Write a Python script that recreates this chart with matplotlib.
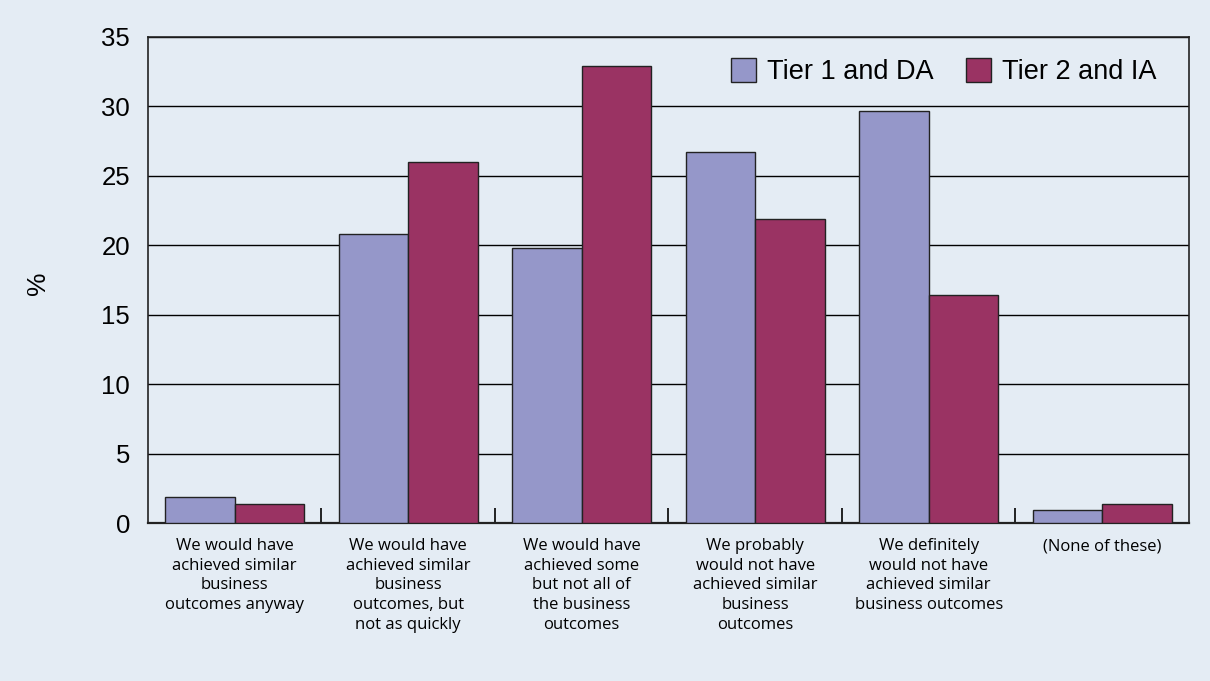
import numpy as np
import matplotlib.pyplot as plt

categories = [
    "We would have\nachieved similar\nbusiness\noutcomes anyway",
    "We would have\nachieved similar\nbusiness\noutcomes, but\nnot as quickly",
    "We would have\nachieved some\nbut not all of\nthe business\noutcomes",
    "We probably\nwould not have\nachieved similar\nbusiness\noutcomes",
    "We definitely\nwould not have\nachieved similar\nbusiness outcomes",
    "(None of these)",
]
tier1 = [1.9, 20.8, 19.8, 26.7, 29.7, 0.95]
tier2 = [1.35, 26.0, 32.9, 21.9, 16.4, 1.35]
series_names = ["Tier 1 and DA", "Tier 2 and IA"]

bg = "#E4ECF4"
fig = plt.figure(figsize=(12.1, 6.81), dpi=100, facecolor=bg)
ax = fig.add_axes([0.1223, 0.232, 0.8603, 0.7137], facecolor=bg)

x = np.arange(len(categories))
w = 0.4
ax.bar(x - w / 2, tier1, w, color="#9597C9", edgecolor="#222222", linewidth=1.0,
       label=series_names[0], zorder=3)
ax.bar(x + w / 2, tier2, w, color="#9A3363", edgecolor="#222222", linewidth=1.0,
       label=series_names[1], zorder=3)

ax.set_xlim(-0.5, len(categories) - 0.5)
ax.set_ylim(0, 35)
ax.set_yticks(range(0, 36, 5))
ax.tick_params(axis="y", length=0, pad=13, labelsize=18.5)
for t in ax.get_yticklabels():
    t.set_family("Liberation Sans")
ax.yaxis.grid(True, color="black", linewidth=1.0, zorder=1)

# category labels without ticks, separator ticks between categories
ax.set_xticks(x)
ax.set_xticklabels(categories, family="Open Sans", fontsize=12, linespacing=1.3)
ax.tick_params(axis="x", length=0, pad=11)
ax.set_xticks(np.arange(0.5, len(categories) - 0.5), minor=True)
ax.tick_params(axis="x", which="minor", direction="in", length=11, width=1.2, color="black")

for s in ax.spines.values():
    s.set_color("#222222")
    s.set_linewidth(1.2)
ax.spines["bottom"].set_linewidth(1.6)

fig.text(38 / 1210, 1 - 283 / 681, "%", rotation=90, ha="center", va="center",
         family="Liberation Sans", fontsize=19)

ax.legend(loc="center right", bbox_to_anchor=(0.9687, 0.929), frameon=False, ncol=2,
          prop={"family": "Liberation Sans", "size": 19.5}, handlelength=0.93,
          handleheight=0.97, columnspacing=1.2, handletextpad=0.4,
          borderpad=0, borderaxespad=0)

fig.savefig("out.png", dpi=100, facecolor=bg)
